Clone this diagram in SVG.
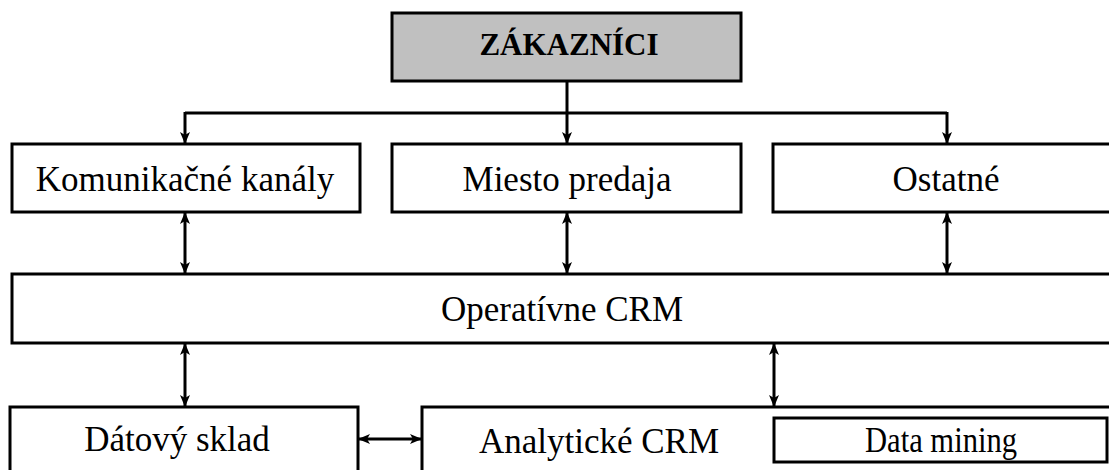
<svg xmlns="http://www.w3.org/2000/svg" width="1109" height="470" viewBox="0 0 1109 470">
<defs>
<style>
.box{fill:#ffffff;stroke:#000000;stroke-width:3}
.grey{fill:#c0c0c0;stroke:#000000;stroke-width:3}
.t{font-family:"Liberation Serif","Times New Roman",serif;font-size:35px;fill:#000000;text-anchor:middle}
.tb{font-family:"Liberation Serif","Times New Roman",serif;font-size:31px;font-weight:bold;fill:#000000;text-anchor:middle}
.c{fill:none;stroke:#000000;stroke-width:3}
</style>
<marker id="ah" viewBox="0 0 12 10" refX="11" refY="5" markerWidth="12" markerHeight="10" markerUnits="userSpaceOnUse" orient="auto-start-reverse">
<path d="M0,0 L12,5 L0,10 L3,5 Z" fill="#000000"/>
</marker>
</defs>
<rect width="1109" height="470" fill="#ffffff"/>
<g id="zakaznici"><rect class="grey" x="392" y="13" width="349" height="68"/><text class="tb" x="569" y="55">ZÁKAZNÍCI</text></g>
<g id="komunikacne"><rect class="box" x="12" y="144" width="348" height="68"/><text class="t" x="185" y="191">Komunikačné kanály</text></g>
<g id="miesto"><rect class="box" x="392" y="144" width="349" height="68"/><text class="t" x="567" y="191">Miesto predaja</text></g>
<g id="ostatne"><rect class="box" x="773" y="144" width="344" height="68"/><text class="t" x="946" y="191">Ostatné</text></g>
<g id="operativne"><rect class="box" x="12" y="274" width="1102" height="69"/><text class="t" x="562" y="321">Operatívne CRM</text></g>
<g id="datovy"><rect class="box" x="10" y="407" width="348" height="70"/><text class="t" x="177" y="451">Dátový sklad</text></g>
<g id="analyticke"><rect class="box" x="422" y="407" width="694" height="70"/><text class="t" x="599" y="453">Analytické CRM</text></g>
<g id="datamining"><rect class="box" x="774" y="418" width="333" height="44"/><text class="t" x="941" y="452" textLength="152" lengthAdjust="spacingAndGlyphs">Data mining</text></g>
<g id="connectors">
<path class="c" d="M185,113 H947"/>
<path class="c" d="M567,81 V143" marker-end="url(#ah)"/>
<path class="c" d="M185,112 V143" marker-end="url(#ah)"/>
<path class="c" d="M947,112 V143" marker-end="url(#ah)"/>
<path class="c" d="M185,213 V273" marker-start="url(#ah)" marker-end="url(#ah)"/>
<path class="c" d="M567,213 V273" marker-start="url(#ah)" marker-end="url(#ah)"/>
<path class="c" d="M947,213 V273" marker-start="url(#ah)" marker-end="url(#ah)"/>
<path class="c" d="M185,344 V406" marker-start="url(#ah)" marker-end="url(#ah)"/>
<path class="c" d="M774,344 V406" marker-start="url(#ah)" marker-end="url(#ah)"/>
<path class="c" d="M359,439 H421" marker-start="url(#ah)" marker-end="url(#ah)"/>
</g>
</svg>
